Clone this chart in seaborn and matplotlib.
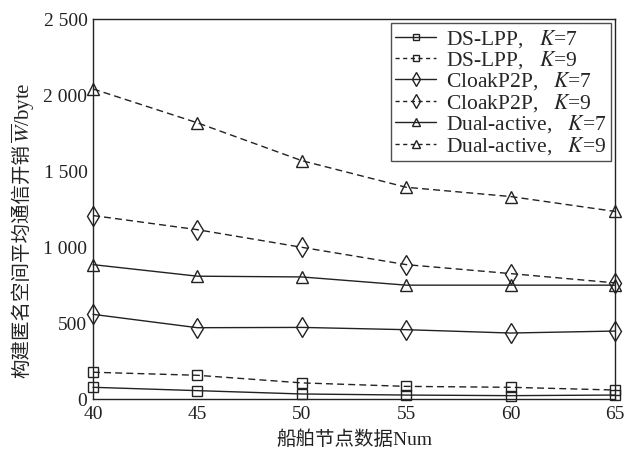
import matplotlib
matplotlib.use("Agg")
import matplotlib.pyplot as plt
import seaborn as sns
import pandas as pd

# ---- data ----
num_nodes = [40, 45, 50, 55, 60, 65]
ds_lpp_k7 = [77, 55, 33, 26, 22, 26]
ds_lpp_k9 = [176, 156, 106, 83, 77, 59]
cloak_k7 = [557, 469, 471, 456, 434, 447]
cloak_k9 = [1207, 1114, 998, 884, 825, 764]
dual_k7 = [884, 808, 803, 749, 749, 749]
dual_k9 = [2040, 1817, 1568, 1393, 1332, 1234]
series_labels = ["DS-LPP,   $K$=7", "DS-LPP,   $K$=9", "CloakP2P,   $K$=7",
                 "CloakP2P,   $K$=9", "Dual-active,   $K$=7", "Dual-active,   $K$=9"]
y_ticks = [0, 500, 1000, 1500, 2000, 2500]
y_tick_labels = ["0", "500", "1 000", "1 500", "2 000", "2 500"]
x_ticks = [40, 45, 50, 55, 60, 65]
x_label = "船舶节点数据Num"
y_label_cjk = "构建匿名空间平均通信开销"
y_label_math = "$\\overline{W}$/byte"

sns.set_theme(style="white")
plt.rcParams['font.family'] = ['Liberation Serif', 'Noto Sans CJK SC', 'DejaVu Sans']
plt.rcParams['mathtext.fontset'] = 'stix'
plt.rcParams['axes.unicode_minus'] = False

W, H = 635, 450
fig = plt.figure(figsize=(W / 100, H / 100), dpi=100)
ax = fig.add_axes([93 / W, 1 - 399 / H, (615 - 93) / W, (399 - 19) / H])

series = [ds_lpp_k7, ds_lpp_k9, cloak_k7, cloak_k9, dual_k7, dual_k9]
markers = ['s', 's', 'd', 'd', '^', '^']
sizes = [7, 7, 10, 10, 9, 9]
styles = ['-', '--', '-', '--', '-', '--']
ink = "#222222"

for vals, lab, mk, ms, ls in zip(series, series_labels, markers, sizes, styles):
    df = pd.DataFrame({"x": num_nodes, "y": vals})
    sns.lineplot(data=df, x="x", y="y", ax=ax, color=ink, linewidth=1.0,
                 marker=mk, markersize=ms, markerfacecolor="none",
                 markeredgecolor=ink, markeredgewidth=1.0, label=lab)
    ln = ax.lines[-1]
    ln.set_linestyle(ls)
    if ls == '--':
        ln.set_dashes([5, 3])
    ln.set_clip_on(False)

ax.set_xlim(40, 65)
ax.set_ylim(0, 2500)
ax.set_xticks(x_ticks)
ax.set_yticks(y_ticks)
ax.set_yticklabels(y_tick_labels)
ax.tick_params(direction='in', length=4, width=0.8, colors=ink, labelsize=14)
ax.tick_params(axis='x', pad=5)
ax.tick_params(axis='y', pad=4)
ax.set_xlabel(x_label, fontsize=14, color=ink, labelpad=5)
ax.set_ylabel("")
for s in ax.spines.values():
    s.set_color(ink)
    s.set_linewidth(1.0)
    s.set_visible(True)

leg = ax.legend(loc='upper right', fontsize=15.5, frameon=True, fancybox=False,
                edgecolor=ink, handlelength=1.9, handletextpad=0.45,
                borderpad=0.2, labelspacing=-0.02, borderaxespad=0.2)
leg.get_frame().set_linewidth(1.0)
for ln in leg.get_lines():
    ln.set_markersize(ln.get_markersize() * 0.7)
    if ln.get_linestyle() == '--':
        ln.set_dashes([3, 2.5])

# y label composed of a CJK part and a math part, stacked vertically
t1 = fig.text(22 / W, 1 - 378 / H, y_label_cjk, rotation=90, ha='center',
              va='bottom', fontsize=14, color=ink)
fig.canvas.draw()
bb = t1.get_window_extent()
fig.text(23 / W, (bb.y1 + 1) / H, y_label_math, rotation=90, ha='center',
         va='bottom', fontsize=15, color=ink)

fig.savefig("out.png", dpi=100, facecolor="white")
